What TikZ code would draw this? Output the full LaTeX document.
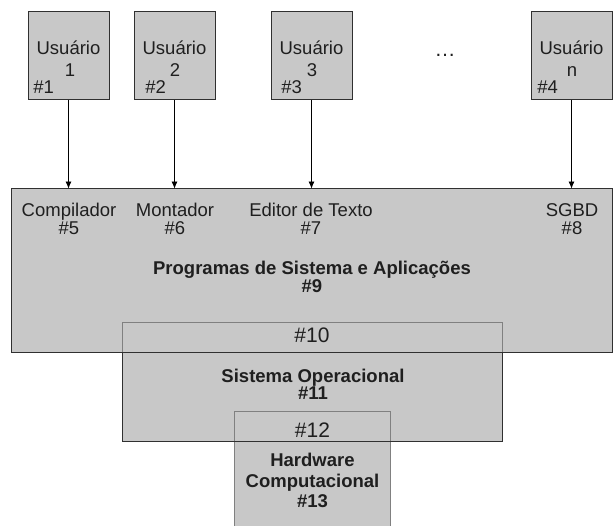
\documentclass[tikz,border=0pt]{standalone}
\usepackage{fontspec}
\setmainfont{Liberation Sans}
\usetikzlibrary{arrows.meta}

\definecolor{boxfill}{HTML}{C8C8C8}
\definecolor{darkedge}{HTML}{303030}
\definecolor{lightedge}{HTML}{808080}

\begin{document}
\begin{tikzpicture}[
            x = 1pt, y = -1pt,
            > = {Latex[length=7pt, width=6pt]}, % arrow head style
            font = \fontsize{18.5}{19}\selectfont,
            line width = 0.8pt
        ]

        \tikzstyle{every node}=[inner sep = 0pt, text = black!88]
        \tikzstyle{userbox}=[
            draw = darkedge,
            line width = 1pt,
            fill = boxfill,
            minimum width = 81pt,
            minimum height = 88pt
        ]
        \tikzstyle{layer}=[fill = boxfill]
        \tikzstyle{txt}=[anchor = base]
        \tikzstyle{big}=[anchor = base, font = \fontsize{21}{22}\selectfont]
        \tikzstyle{bold}=[anchor = base, font = \fontsize{18.5}{19}\selectfont\bfseries]

        \useasboundingbox (0,0) rectangle (614,526);

        % users
        \node[userbox] (u1) at (68.5,56) {};
        \node[userbox] (u2) at (174.5,56) {};
        \node[userbox] (u3) at (311.5,56) {};
        \node[userbox] (u4) at (571.5,56) {};

        \node[txt] (u1a) at (68.5,55) {Usuário};
        \node[txt] (u1b) at (70,77) {1};
        \node[txt, anchor = base west] (u1c) at (33,94) {\#1};
        \node[txt] (u2a) at (174.5,55) {Usuário};
        \node[txt] (u2b) at (175,77) {2};
        \node[txt, anchor = base west] (u2c) at (145,94) {\#2};
        \node[txt] (u3a) at (311.5,55) {Usuário};
        \node[txt] (u3b) at (312,77) {3};
        \node[txt, anchor = base west] (u3c) at (281,94) {\#3};
        \node[txt] (u4a) at (571.5,55) {Usuário};
        \node[txt] (u4b) at (572,77) {n};
        \node[txt, anchor = base west] (u4c) at (537,94) {\#4};

        \node[big] (dots) at (445,57) {\ldots};

        % layers
        \node[layer, minimum width = 600pt, minimum height = 163pt] (prog) at (312,270.5) {};
        \node[layer, minimum width = 379pt, minimum height = 118pt] (os) at (312.5,382) {};
        \node[layer, minimum width = 155pt, minimum height = 116pt] (hw) at (312.5,470) {};

        \draw[lightedge] (hw.south west) |- (hw.north east) -- (hw.south east);
        \draw[darkedge] (os.south west) rectangle (os.north east);
        \draw[lightedge] (os.west |- prog.south) |- (os.north east) -- (os.east |- prog.south);
        \draw[darkedge] (prog.south west) rectangle (prog.north east);

        \path[->] (u1) edge (u1 |- prog.north);
        \path[->] (u2) edge (u2 |- prog.north);
        \path[->] (u3) edge (u3 |- prog.north);
        \path[->] (u4) edge (u4 |- prog.north);

        % labels
        \node[txt] (comp) at (69,217) {Compilador};
        \node[txt] (comp5) at (69,235) {\#5};
        \node[txt] (mont) at (175,217) {Montador};
        \node[txt] (mont6) at (175,235) {\#6};
        \node[txt] (edit) at (311,217) {Editor de Texto};
        \node[txt] (edit7) at (311,235) {\#7};
        \node[txt] (sgbd) at (572,217) {SGBD};
        \node[txt] (sgbd8) at (572,235) {\#8};

        \node[bold] (progname) at (312,275) {Programas de Sistema e Aplicações};
        \node[bold] (prog9) at (312,293) {\#9};
        \node[big] (os10) at (312,343) {\#10};
        \node[bold] (osname) at (313,383) {Sistema Operacional};
        \node[bold] (os11) at (313,400) {\#11};
        \node[big] (hw12) at (312.5,438) {\#12};
        \node[bold] (hwname) at (312.5,467) {Hardware};
        \node[bold] (hwname2) at (312.5,488) {Computacional};
        \node[bold] (hw13) at (312.5,508) {\#13};

  \end{tikzpicture}
\end{document}
